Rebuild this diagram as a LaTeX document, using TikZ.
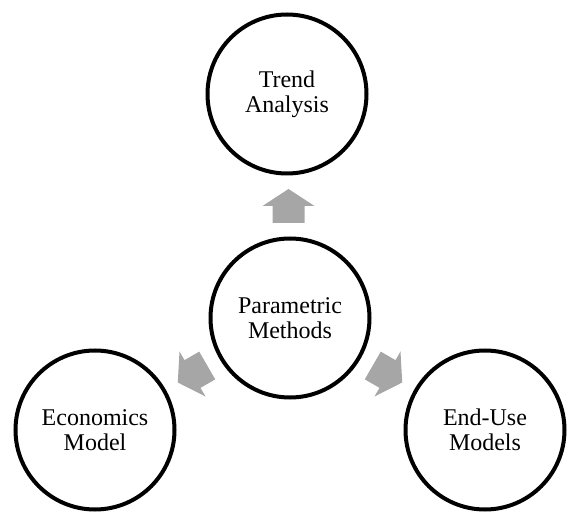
\documentclass[tikz,border=0pt]{standalone}
\usepackage{fontspec}
\setmainfont{Liberation Serif}
\usetikzlibrary{calc}
\definecolor{arrowgray}{HTML}{A6A6A6}
\begin{document}
\begin{tikzpicture}[x=1pt,y=1pt,
  topic/.style={circle,draw=black,line width=4pt,minimum size=159pt,inner sep=0pt,
    align=center,font=\fontsize{24pt}{25pt}\selectfont,text=black},
  blockarrow/.pic={\fill[arrowgray] (-17,-16) -- (0,-16) -- (0,-26) -- (17,0) -- (0,26) -- (0,16) -- (-17,16) -- cycle;}]
\useasboundingbox (0,0) rectangle (579,531);
\node[topic] (T) at (287,437) {Trend\\Analysis};
\node[topic] (C) at (290,213) {Parametric\\Methods};
\node[topic] (L) at (95,101) {Economics\\Model};
\node[topic] (R) at (485,101) {End-Use\\Models};
\pic[rotate=90] at ($(C)!0.5!(T)$) {blockarrow};
\pic[rotate=210] at ($(C)!0.5!(L)$) {blockarrow};
\pic[rotate=-30] at ($(C)!0.5!(R)$) {blockarrow};
\end{tikzpicture}
\end{document}
